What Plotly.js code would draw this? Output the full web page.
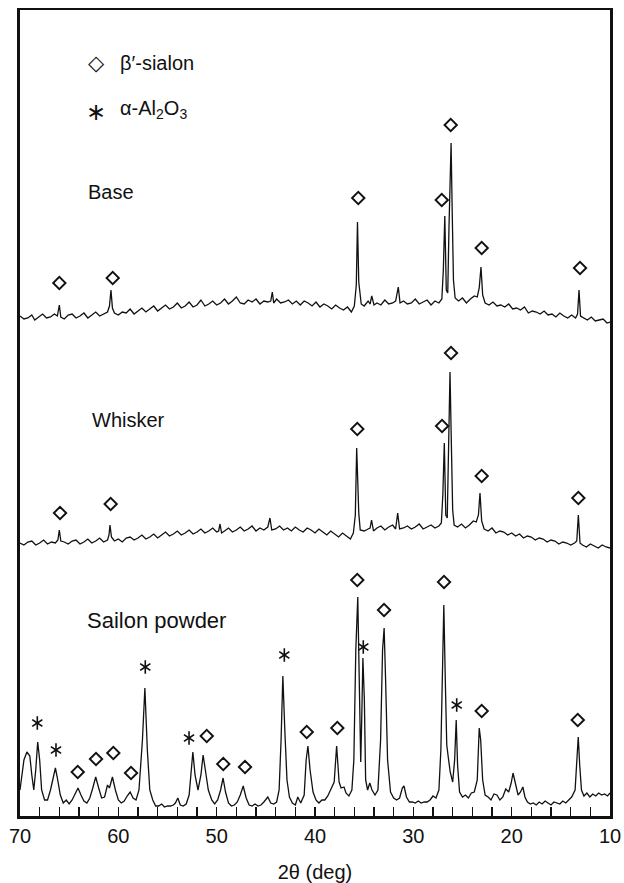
<!DOCTYPE html>
<html><head><meta charset="utf-8">
<script src="https://cdn.plot.ly/plotly-3.0.1.min.js"></script>
<style>html,body{margin:0;padding:0;background:#fff}#chart{width:624px;height:883px}</style>
</head><body><div id="chart"></div>
<script>
// ---- Base pattern (2θ in degrees, relative intensity) ----
const baseTheta = [70.0,69.6,69.2,68.8,68.5,68.1,67.7,67.3,66.9,66.5,66.2,66.0,65.85,65.5,65.1,64.7,64.3,63.9,63.5,63.1,62.7,62.3,61.9,61.5,61.1,60.9,60.75,60.6,60.4,60.0,59.6,59.2,58.8,58.4,58.0,57.6,57.2,56.8,56.4,56.0,55.6,55.2,54.8,54.4,54.0,53.6,53.2,52.8,52.4,52.0,51.6,51.2,50.8,50.4,50.0,49.6,49.2,48.8,48.4,48.0,47.6,47.2,46.8,46.4,46.0,45.6,45.2,44.8,44.5,44.34,44.2,43.9,43.5,43.1,42.7,42.3,41.9,41.5,41.1,40.7,40.3,39.9,39.5,39.1,38.7,38.3,37.9,37.5,37.1,36.7,36.3,36.0,35.8,35.68,35.55,35.45,35.3,35.0,34.6,34.4,34.23,34.0,33.7,33.3,32.9,32.5,32.1,31.8,31.53,31.35,31.0,30.6,30.2,29.8,29.4,29.0,28.6,28.2,27.8,27.4,27.1,26.95,26.8,26.65,26.5,26.38,26.28,26.16,26.05,25.92,25.75,25.4,25.0,24.6,24.2,23.8,23.5,23.3,23.12,22.95,22.7,22.3,21.9,21.5,21.1,20.7,20.3,19.9,19.5,19.1,18.7,18.3,17.9,17.5,17.1,16.7,16.3,15.9,15.5,15.1,14.7,14.3,13.9,13.5,13.3,13.15,13.0,12.7,12.3,11.9,11.5,11.1,10.7,10.3,10.0];
const baseIntensity = [14,11,12,15,10,13,16,12,13,16,14,25,13,11,15,16,12,14,17,12,15,18,14,16,18,24,40,22,17,15,18,17,21,16,19,22,18,21,24,19,22,25,21,23,27,22,24,28,23,25,30,24,26,29,25,27,31,26,29,33,27,26,30,28,31,26,29,28,29,38,27,31,27,28,30,26,29,25,29,27,24,28,23,26,24,21,25,22,20,23,18,24,45,108,48,40,26,24,29,26,34,25,27,25,30,26,27,29,43,27,29,26,27,31,26,28,30,25,29,27,31,60,114,40,37,100,140,187,120,50,32,29,32,27,31,34,33,42,63,35,27,25,28,24,25,23,26,21,22,20,23,17,19,18,16,19,15,16,13,17,14,12,15,12,16,40,14,12,10,13,9,10,11,7,8];

// ---- Whisker pattern ----
const whiskerTheta = [70.0,69.6,69.2,68.8,68.4,68.0,67.6,67.2,66.8,66.4,66.15,66.0,65.85,65.5,65.1,64.7,64.3,63.9,63.5,63.1,62.7,62.3,61.9,61.5,61.1,60.95,60.85,60.7,60.4,60.0,59.6,59.2,58.8,58.4,58.0,57.6,57.2,56.8,56.4,56.0,55.6,55.2,54.8,54.4,54.0,53.6,53.2,52.8,52.4,52.0,51.6,51.2,50.8,50.4,50.0,49.8,49.66,49.5,49.2,48.8,48.4,48.0,47.6,47.2,46.8,46.4,46.0,45.6,45.2,44.8,44.58,44.4,44.0,43.6,43.2,42.8,42.4,42.0,41.6,41.2,40.8,40.4,40.0,39.6,39.2,38.8,38.4,38.0,37.6,37.2,36.8,36.4,36.1,35.9,35.76,35.63,35.55,35.4,35.0,34.6,34.4,34.25,34.05,33.7,33.3,32.9,32.5,32.1,31.8,31.59,31.4,31.0,30.6,30.2,29.8,29.4,29.0,28.6,28.2,27.8,27.4,27.15,27.0,26.85,26.7,26.55,26.45,26.35,26.27,26.15,26.0,25.85,25.5,25.1,24.7,24.3,23.9,23.6,23.38,23.22,23.05,22.8,22.4,22.0,21.6,21.2,20.8,20.4,20.0,19.6,19.2,18.8,18.4,18.0,17.6,17.2,16.8,16.4,16.0,15.6,15.2,14.8,14.4,14.0,13.6,13.38,13.22,13.05,12.8,12.4,12.0,11.6,11.2,10.8,10.4,10.0];
const whiskerIntensity = [12,10,13,14,10,12,15,11,13,12,15,25,14,13,11,14,15,11,13,16,12,14,17,13,15,20,30,18,14,16,13,17,18,15,17,20,16,18,21,17,20,23,19,21,24,20,22,25,21,23,26,22,24,27,23,24,31,22,24,27,23,25,28,24,26,29,24,27,25,28,37,25,26,29,25,27,24,28,25,23,27,25,22,26,23,20,24,21,18,22,19,16,22,40,107,45,42,25,24,26,27,35,24,27,29,25,28,30,26,42,26,27,29,26,28,31,26,28,30,27,29,32,60,112,40,37,95,140,183,120,45,30,28,31,27,30,34,33,40,62,34,26,24,27,22,24,23,20,22,19,21,17,19,18,15,17,16,13,15,14,11,13,12,10,12,14,40,12,10,8,11,9,7,10,8,7];

// ---- Sialon powder pattern ----
const powderTheta = [70.0,69.8,69.6,69.3,69.0,68.8,68.6,68.4,68.2,68.0,67.8,67.5,67.2,66.9,66.6,66.4,66.2,65.9,65.6,65.3,65.0,64.7,64.4,64.1,63.8,63.5,63.2,62.9,62.6,62.3,62.0,61.7,61.4,61.1,60.9,60.6,60.3,60.0,59.7,59.4,59.1,58.8,58.5,58.2,57.9,57.55,57.3,57.05,56.8,56.5,56.2,55.9,55.6,55.3,55.0,54.7,54.4,54.2,53.95,53.7,53.4,53.1,52.8,52.6,52.42,52.2,51.9,51.6,51.38,51.15,50.85,50.5,50.2,49.9,49.6,49.35,49.1,48.8,48.5,48.2,47.9,47.6,47.3,47.0,46.7,46.4,46.1,45.8,45.5,45.2,44.8,44.5,44.2,43.9,43.65,43.45,43.27,43.07,42.85,42.6,42.3,42.0,41.75,41.45,41.1,40.9,40.72,40.5,40.2,39.9,39.6,39.3,39.0,38.7,38.4,38.05,37.8,37.55,37.35,37.05,36.85,36.55,36.25,36.05,35.85,35.65,35.5,35.35,35.25,35.13,34.98,34.85,34.65,34.43,34.2,33.9,33.6,33.33,33.13,32.97,32.82,32.62,32.32,32.0,31.7,31.4,31.12,30.95,30.7,30.4,30.1,29.8,29.5,29.2,28.9,28.6,28.3,28.0,27.7,27.4,27.2,27.05,26.9,26.75,26.6,26.45,26.25,26.0,25.8,25.64,25.5,25.3,25.0,24.7,24.4,24.1,23.8,23.5,23.3,23.15,22.95,22.7,22.4,22.1,21.8,21.5,21.2,20.9,20.6,20.3,20.05,19.86,19.65,19.35,19.1,18.86,18.65,18.4,18.1,17.8,17.5,17.2,16.9,16.6,16.3,16.0,15.7,15.4,15.1,14.8,14.5,14.2,13.9,13.55,13.38,13.23,13.08,12.9,12.65,12.35,12.05,11.75,11.45,11.15,10.85,10.55,10.25,10.0];
const powderIntensity = [26,41,56,64,60,41,26,46,74,56,26,16,16,26,41,48,38,21,13,16,12,16,22,28,21,15,13,18,28,39,28,18,19,31,28,39,26,16,13,15,20,24,18,16,26,76,128,66,26,16,10,10,12,9,10,10,11,13,18,11,10,12,21,46,64,41,26,41,61,46,26,16,12,16,26,38,24,13,10,11,14,21,30,18,11,10,12,10,11,14,19,13,12,14,26,76,140,86,36,19,13,11,19,13,21,56,70,46,24,16,13,16,16,20,26,34,70,34,28,29,23,20,26,56,166,219,136,54,96,158,116,36,26,33,26,21,26,76,166,188,136,56,24,18,16,18,28,30,19,14,14,13,15,13,14,14,16,20,18,26,66,156,211,136,71,59,44,34,56,96,51,24,19,21,18,23,24,36,88,76,36,21,19,16,22,21,16,19,27,24,33,43,34,21,24,29,19,14,12,13,11,14,12,15,13,11,14,13,12,15,13,16,19,26,56,79,51,26,20,23,19,22,20,23,21,22,20,23];

// ---- Peak identification marks (peak 2θ, mark height in each pattern's intensity units) ----
const baseSialonTheta = [66.0,60.57,35.6,27.11,26.2,23.05,13.05];
const baseSialonHeight = [47,52,132,130,205,82,62];
const whiskerSialonTheta = [65.93,60.78,35.7,27.08,26.17,23.05,13.22];
const whiskerSialonHeight = [42,51,126,129,202,79,57];
const powderSialonTheta = [64.13,62.27,60.51,58.71,51.01,49.33,47.12,40.84,37.73,35.7,32.98,26.88,23.05,13.28];
const powderSialonHeight = [44,57,63,43,80,52,49,84,88,236,206,234,105,96];
const powderAluminaTheta = [68.24,66.34,57.26,52.81,43.12,35.09,25.59];
const powderAluminaHeight = [93,66,149,78,161,169,111];

// ---- Text ----
const sampleNames = ['Base', 'Whisker', 'Sailon powder'];
const phaseNames = ['β′-sialon', 'α-Al<sub>2</sub>O<sub>3</sub>'];
const xTitle = '2θ (deg)';
const xTicks = [70,60,50,40,30,20,10];

const ink = '#111';
const FONT = 'Liberation Sans, Arial, Helvetica, sans-serif';
const lineStyle = {color: ink, width: 1.3};
const diamond = {symbol: 'diamond-open', size: 9.5, color: ink, line: {width: 1.9, color: ink}};
const starUp = {symbol: 'y-up-open', size: 8.5, color: ink, line: {width: 1.6, color: ink}};
const starDown = {symbol: 'y-down-open', size: 8.5, color: ink, line: {width: 1.6, color: ink}};

const traces = [
  {x: baseTheta, y: baseIntensity, yaxis: 'y', mode: 'lines', line: lineStyle, name: sampleNames[0]},
  {x: whiskerTheta, y: whiskerIntensity, yaxis: 'y2', mode: 'lines', line: lineStyle, name: sampleNames[1]},
  {x: powderTheta, y: powderIntensity, yaxis: 'y3', mode: 'lines', line: lineStyle, name: sampleNames[2]},
  {x: baseSialonTheta, y: baseSialonHeight, yaxis: 'y', mode: 'markers', marker: diamond, name: phaseNames[0]},
  {x: whiskerSialonTheta, y: whiskerSialonHeight, yaxis: 'y2', mode: 'markers', marker: diamond, name: phaseNames[0]},
  {x: powderSialonTheta, y: powderSialonHeight, yaxis: 'y3', mode: 'markers', marker: diamond, name: phaseNames[0]},
  {x: powderAluminaTheta, y: powderAluminaHeight, yaxis: 'y3', mode: 'markers', marker: starUp, name: phaseNames[1]},
  {x: powderAluminaTheta, y: powderAluminaHeight, yaxis: 'y3', mode: 'markers', marker: starDown, name: phaseNames[1]}
];

function label(text, x, y, size) {
  return {text: text, xref: 'paper', yref: 'paper', x: x, y: y, xanchor: 'left', yanchor: 'middle',
          showarrow: false, font: {family: FONT, size: size, color: ink}};
}

const layout = {
  width: 624, height: 883,
  margin: {l: 20, r: 14, t: 10, b: 67},
  paper_bgcolor: '#fff', plot_bgcolor: '#fff',
  showlegend: false,
  xaxis: {
    range: [70, 10], tickmode: 'array', tickvals: xTicks,
    ticks: 'inside', ticklen: 9, tickwidth: 1.2, tickcolor: ink,
    minor: {tickmode: 'linear', tick0: 0, dtick: 2, ticks: 'inside', ticklen: 9, tickwidth: 1.2, tickcolor: ink},
    showline: true, mirror: true, linewidth: 2.5, linecolor: ink,
    showgrid: false, zeroline: false,
    tickfont: {family: FONT, size: 20, color: ink},
    title: {text: xTitle, font: {family: FONT, size: 20, color: ink}, standoff: 22}
  },
  yaxis: {range: [-486, 320], showline: true, mirror: true, linewidth: 3, linecolor: ink,
          ticks: '', showticklabels: false, showgrid: false, zeroline: false},
  yaxis2: {range: [-261, 545], overlaying: 'y', visible: false},
  yaxis3: {range: [0, 806], overlaying: 'y', visible: false},
  annotations: [
    label(sampleNames[0], 0.112, 0.774, 20),
    label(sampleNames[1], 0.118, 0.491, 20),
    label(sampleNames[2], 0.110, 0.243, 22),
    label(phaseNames[0], 0.166, 0.934, 20),
    label(phaseNames[1], 0.166, 0.876, 20),
    {text: '◇', xref: 'paper', yref: 'paper', x: 0.130, y: 0.934, xanchor: 'center', yanchor: 'middle', showarrow: false,
     font: {family: 'DejaVu Sans', size: 21, color: ink}},
    {text: '∗', xref: 'paper', yref: 'paper', x: 0.129, y: 0.874, xanchor: 'center', yanchor: 'middle', showarrow: false,
     font: {family: 'DejaVu Sans', size: 24, color: ink}}
  ]
};

Plotly.newPlot('chart', traces, layout, {staticPlot: true, displayModeBar: false});
</script>
</body></html>
